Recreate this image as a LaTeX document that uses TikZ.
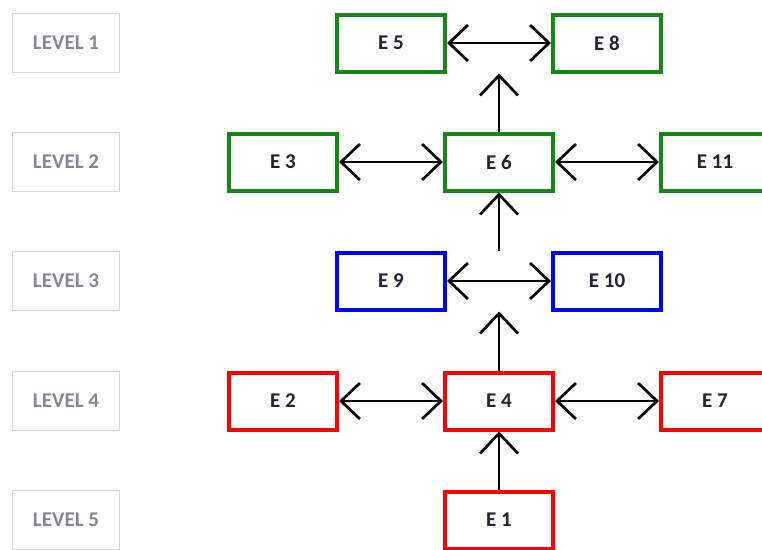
\documentclass[tikz,border=0pt]{standalone}
\usepackage{fontspec}
\setmainfont{Carlito}
\usetikzlibrary{arrows.meta}
\definecolor{boxgreen}{RGB}{20,135,20}
\definecolor{levelgray}{RGB}{135,135,145}
\definecolor{framegray}{RGB}{215,215,215}
\definecolor{textdark}{RGB}{35,35,50}
\tikzset{
  ebox/.style={draw=#1, line width=4pt, minimum width=108pt, minimum height=57pt,
    inner sep=0pt, fill=white, text=textdark, font=\fontsize{21}{25}\selectfont\bfseries},
  levelbox/.style={draw=framegray, line width=1.5pt, minimum width=107pt, minimum height=59pt,
    inner sep=0pt, text=levelgray, font=\fontsize{21}{25}\selectfont\bfseries},
  link/.style={line width=2.7pt, black,
    {Straight Barb[length=19pt,width=36pt]}-{Straight Barb[length=19pt,width=36pt]}},
  uplink/.style={line width=2.7pt, black, -{Straight Barb[length=20pt,width=38pt]}}
}
\begin{document}
\begin{tikzpicture}[x=1pt,y=-1pt]
  \useasboundingbox (0,0) rectangle (762,549);
  \clip (0,0) rectangle (762,549);
  % level labels
  \node[levelbox] (L1) at (66,43)  {LEVEL 1};
  \node[levelbox] (L2) at (66,162) {LEVEL 2};
  \node[levelbox] (L3) at (66,281) {LEVEL 3};
  \node[levelbox] (L4) at (66,401) {LEVEL 4};
  \node[levelbox] (L5) at (66,520) {LEVEL 5};
  % level 1
  \node[ebox=boxgreen] (E5) at (391,43) {E 5};
  \node[ebox=boxgreen] (E8) at (607,43) {E 8};
  % level 2
  \node[ebox=boxgreen] (E3) at (283,162) {E 3};
  \node[ebox=boxgreen] (E6) at (499,162) {E 6};
  \node[ebox=boxgreen] (E11) at (715,162) {E 11};
  % level 3
  \node[ebox=blue] (E9) at (391,281) {E 9};
  \node[ebox=blue] (E10) at (607,281) {E 10};
  % level 4
  \node[ebox=red] (E2) at (283,401) {E 2};
  \node[ebox=red] (E4) at (499,401) {E 4};
  \node[ebox=red] (E7) at (715,401) {E 7};
  % level 5
  \node[ebox=red] (E1) at (499,520) {E 1};
  % horizontal links
  \draw[link] (E5) -- (E8);
  \draw[link] (E3) -- (E6);
  \draw[link] (E6) -- (E11);
  \draw[link] (E9) -- (E10);
  \draw[link] (E2) -- (E4);
  \draw[link] (E4) -- (E7);
  % upward links
  \coordinate (T1) at (E6.north |- E5.south);
  \coordinate (B3) at (E6.south |- E9.north);
  \coordinate (T3) at (E4.north |- E9.south);
  \draw[uplink] (E6.north) -- (T1);
  \draw[uplink] (B3) -- (E6.south);
  \draw[uplink] (E4.north) -- (T3);
  \draw[uplink] (E1.north) -- (E4.south);
\end{tikzpicture}
\end{document}
